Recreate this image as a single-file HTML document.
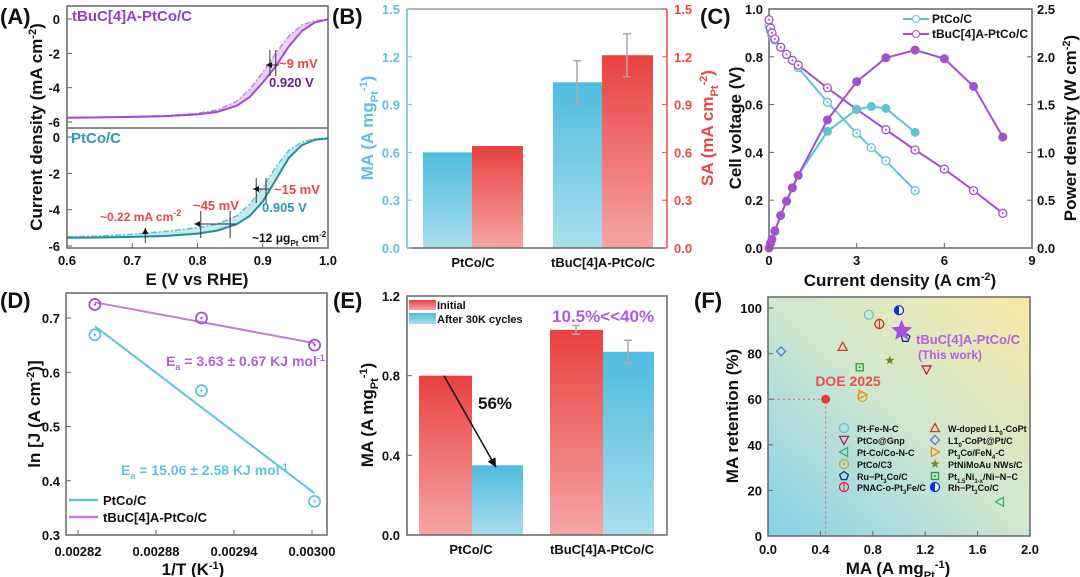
<!DOCTYPE html>
<html><head><meta charset="utf-8"><style>
body{margin:0;background:#fff}
svg{display:block;font-family:"Liberation Sans",Arial,sans-serif;font-weight:bold}
</style></head><body>
<svg id="s" width="1080" height="577" viewBox="0 0 1080 577">
<defs>
<linearGradient id="gc" x1="0" y1="0" x2="0" y2="1"><stop offset="0" stop-color="#4fbcdf"/><stop offset="1" stop-color="#a9deec"/></linearGradient>
<linearGradient id="gr" x1="0" y1="0" x2="0" y2="1"><stop offset="0" stop-color="#e94141"/><stop offset="1" stop-color="#f5a5a5"/></linearGradient>
<linearGradient id="gf" x1="0" y1="1" x2="1" y2="0"><stop offset="0" stop-color="#86d0ea"/><stop offset="0.5" stop-color="#cfe7d0"/><stop offset="1" stop-color="#f8e9a6"/></linearGradient>
<marker id="ah" markerWidth="8" markerHeight="8" refX="6" refY="3" orient="auto"><path d="M0,0 L6,3 L0,6 z" fill="#111"/></marker>
</defs>
<g font-size="22" fill="#111">
<text x="0" y="24">(A)</text>
<text x="332" y="24">(B)</text>
<text x="700" y="24">(C)</text>
<text x="0" y="308">(D)</text>
<text x="333" y="308">(E)</text>
<text x="694" y="308">(F)</text>
</g>
<rect x="768" y="297" width="262" height="239" fill="url(#gf)"/>
<g id="root"></g>
</svg>
<script>
// ---------- DATA ----------
// Panel A (LSV)
const aE = [0.6,0.65,0.7,0.75,0.8,0.83,0.86,0.88,0.9,0.92,0.94,0.96,0.98,1.0];
const aTbuSolid = [-5.75,-5.73,-5.7,-5.66,-5.56,-5.42,-5.05,-4.55,-3.7,-2.75,-1.6,-0.7,-0.2,-0.02];
const aTbuDash  = [-5.74,-5.72,-5.68,-5.63,-5.5,-5.3,-4.8,-4.1,-3.1,-2.0,-1.0,-0.35,-0.1,-0.02];
const aPtSolid  = [-5.55,-5.53,-5.5,-5.45,-5.32,-5.15,-4.8,-4.35,-3.55,-2.35,-1.15,-0.45,-0.15,-0.08];
const aPtDash   = [-5.5,-5.45,-5.35,-5.2,-5.0,-4.8,-4.35,-3.7,-2.8,-1.65,-0.75,-0.28,-0.1,-0.08];
// Panel B
const bCats = ["PtCo/C","tBuC[4]A-PtCo/C"];
const bMA = [0.60,1.04];
const bMAerr = [0,0.135];
const bSA = [0.64,1.21];
const bSAerr = [0,0.135];
const bTicks = [0,0.3,0.6,0.9,1.2,1.5];
// Panel C
const cJpt = [0,0.05,0.1,0.2,0.4,0.6,0.8,1,2,3,3.5,4,5];
const cVpt = [0.93,0.91,0.89,0.87,0.84,0.81,0.785,0.755,0.61,0.48,0.42,0.365,0.24];
const cPpt = [0,0.05,0.09,0.17,0.34,0.49,0.63,0.76,1.22,1.45,1.48,1.46,1.21];
const cJtb = [0,0.05,0.1,0.2,0.4,0.6,0.8,1,2,3,4,5,6,7,8];
const cVtb = [0.955,0.92,0.9,0.875,0.84,0.81,0.785,0.765,0.67,0.58,0.495,0.41,0.33,0.24,0.145];
const cPtb = [0,0.05,0.09,0.18,0.34,0.49,0.63,0.76,1.34,1.74,1.99,2.07,1.98,1.69,1.16];
// Panel D
const dX = [0.002833,0.002915,0.003002];
const dPt = [0.669,0.566,0.362];
const dTb = [0.725,0.700,0.650];
const dXticks = [0.00282,0.00288,0.00294,0.00300];
const dYticks = [0.3,0.4,0.5,0.6,0.7];
// Panel E
const eCats = ["PtCo/C","tBuC[4]A-PtCo/C"];
const eInit = [0.80,1.03];
const eInitErr = [0,0.022];
const eAfter = [0.35,0.92];
const eAfterErr = [0,0.058];
const eTicks = [0,0.4,0.8,1.2];
// Panel F
const fNames = ["Pt-Fe-N-C","PNAC-o-Pt3Fe/C","Rh-Pt3Co/C","Ru-Pt3Co/C","W-doped L10-CoPt","L10-CoPt@Pt/C","Pt1.5Ni/Ni-N-C","PtNiMoAu NWs/C","PtCo@Gnp","Pt3Co/FeN4-C","PtCo/C3","Pt-Co/Co-N-C","DOE 2025","tBuC[4]A-PtCo/C"];
const fMA  = [0.77,0.85,1.00,1.05,0.57,0.10,0.70,0.93,1.21,0.72,0.72,1.77,0.44,1.02];
const fRet = [97,93,99,87,83,81,74,77,73,62,61,15,60,90];

// ---------- HELPERS ----------
const NS="http://www.w3.org/2000/svg";
const root=document.getElementById('root');
function mk(tag,attrs,name,parent){
  const el=document.createElementNS(NS,tag);
  for(const k in attrs) el.setAttribute(k,attrs[k]);
  
  
  (parent||root).appendChild(el);return el;
}
function txt(x,y,s,name,o){o=o||{};const t=mk('text',Object.assign({x:x,y:y,'font-size':o.fs||13,fill:o.fill||'#111','text-anchor':o.anchor||'middle'},o.tr?{transform:o.tr}:{}),name);t.innerHTML=s;return t;}
function lin(d0,d1,r0,r1){return v=>r0+(v-d0)/(d1-d0)*(r1-r0);}
function pl(xs,ys,X,Y,st,name,extra){const p=xs.map((v,i)=>X(v).toFixed(1)+','+Y(ys[i]).toFixed(1)).join(' ');return mk('polyline',Object.assign({points:p,fill:'none',stroke:st,'stroke-width':2},extra||{}),name);}
function frame(x0,y0,x1,y1,name,col){mk('rect',{x:x0,y:y0,width:x1-x0,height:y1-y0,fill:'none',stroke:col||'#666','stroke-width':1.5},name);}

// ---------- PANEL A ----------
(function(){
  const X=lin(0.6,1.0,67,328);
  const Yt=lin(0,-6,19,122), Yb=lin(0,-6,137,246);
  mk('rect',{x:67,y:6,width:261,height:242,fill:'#fff'},'a-plot-bg');
  const fillP=(a,b,Y,col,n)=>{let p=aE.map((e,i)=>X(e)+','+Y(a[i])).join(' ')+' '+aE.slice().reverse().map((e,i)=>X(e)+','+Y(b[aE.length-1-i])).join(' ');mk('polygon',{points:p,fill:col,opacity:0.35},n);};
  fillP(aTbuSolid,aTbuDash,Yt,'#c07ee0','a-tbu-fill');
  fillP(aPtSolid,aPtDash,Yb,'#5bc0d8','a-ptco-fill');
  pl(aE,aTbuDash,X,Yt,'#c48be6','a-tbu-dashed',{'stroke-dasharray':'6,2,2,2','stroke-width':1.5});
  pl(aE,aTbuSolid,X,Yt,'#a647d6','a-tbu-solid');
  pl(aE,aPtDash,X,Yb,'#5cc4d6','a-ptco-dashed',{'stroke-dasharray':'6,2,2,2','stroke-width':1.5});
  pl(aE,aPtSolid,X,Yb,'#1f8ea2','a-ptco-solid');
  frame(67,6,328,248,'a-frame');
  mk('line',{x1:67,y1:128,x2:328,y2:128,stroke:'#666','stroke-width':1.5},'a-divider');
  [0,-2,-4,-6].forEach(v=>{txt(60,Yt(v)+5,v,'a-top-ytick',{anchor:'end'});txt(60,Yb(v)+5,v,'a-bottom-ytick',{anchor:'end'});
    mk('line',{x1:67,y1:Yt(v),x2:72,y2:Yt(v),stroke:'#666'},'a-tick');mk('line',{x1:67,y1:Yb(v),x2:72,y2:Yb(v),stroke:'#666'},'a-tick');});
  [0.6,0.7,0.8,0.9,1.0].forEach(v=>{txt(X(v),265,v.toFixed(1),'a-xtick');mk('line',{x1:X(v),y1:248,x2:X(v),y2:243,stroke:'#666'},'a-tick');});
  txt(197,285,'E (V vs RHE)','a-x-title',{fs:17});
  txt(0,0,'Current density (mA cm<tspan dy="-6" font-size="11">-2</tspan><tspan dy="6">)</tspan>','a-y-title',{fs:17,tr:'translate(42,127) rotate(-90)'});
  txt(72,21,'tBuC[4]A-PtCo/C','a-tbu-label',{fs:15,fill:'#9b3cc8',anchor:'start'});
  txt(71,143,'PtCo/C','a-ptco-label',{fs:15,fill:'#2a9bb2',anchor:'start'});
  const red='#e8474a';
  const vl=(x,y0,y1,n)=>mk('line',{x1:x,y1:y0,x2:x,y2:y1,stroke:'#333','stroke-width':1},n);
  vl(X(0.911),50,76,'a-marker');vl(X(0.92),50,76,'a-marker');
  mk('line',{x1:X(0.925),y1:65,x2:X(0.905),y2:65,stroke:'#333','marker-end':'url(#ah)'},'a-arrow-9mv');
  txt(279,68,'~9 mV','a-9mv',{fill:red,anchor:'start'});
  txt(269,87,'0.920 V','a-0920',{fill:'#6a1f8a',anchor:'start'});
  vl(X(0.89),178,203,'a-marker');vl(X(0.905),178,203,'a-marker');
  mk('line',{x1:X(0.91),y1:189,x2:X(0.885),y2:189,stroke:'#333','marker-end':'url(#ah)'},'a-arrow-15mv');
  txt(274,194,'~15 mV','a-15mv',{fill:red,anchor:'start'});
  txt(262,212,'0.905 V','a-0905',{fill:'#2a9bb2',anchor:'start'});
  vl(X(0.805),211,238,'a-marker');vl(X(0.85),211,238,'a-marker');
  mk('line',{x1:X(0.86),y1:224,x2:X(0.795),y2:224,stroke:'#333','marker-end':'url(#ah)'},'a-arrow-45mv');
  txt(193,210,'~45 mV','a-45mv',{fill:red,anchor:'start'});
  mk('line',{x1:X(0.72),y1:243,x2:X(0.72),y2:228,stroke:'#333','marker-end':'url(#ah)'},'a-arrow-022');
  txt(100,221,'~0.22 mA cm<tspan dy="-5" font-size="9">-2</tspan>','a-022',{fill:red,anchor:'start',fs:12});
  txt(252,242,'~12 μg<tspan dy="4" font-size="8">Pt</tspan><tspan dy="-4"> cm</tspan><tspan dy="-5" font-size="8">-2</tspan>','a-loading',{anchor:'start',fs:12});
})();

// ---------- PANEL B ----------
(function(){
  const Y=lin(0,1.5,248,9);
  const cyan='#5bc2e2',red='#e84848';
  const cx=[423,553];
  bCats.forEach((c,i)=>{
    mk('rect',{x:cx[i],y:Y(bMA[i]),width:49,height:248-Y(bMA[i]),fill:'url(#gc)'},'b-bar-ma-'+i);
    mk('rect',{x:cx[i]+49,y:Y(bSA[i]),width:51,height:248-Y(bSA[i]),fill:'url(#gr)'},'b-bar-sa-'+i);
    if(bMAerr[i]){const x=cx[i]+24;mk('path',{d:`M${x-4},${Y(bMA[i]+bMAerr[i])}h8M${x},${Y(bMA[i]+bMAerr[i])}V${Y(bMA[i]-bMAerr[i])}M${x-4},${Y(bMA[i]-bMAerr[i])}h8`,stroke:'#aaa','stroke-width':1.5,fill:'none'},'b-err-ma');}
    if(bSAerr[i]){const x=cx[i]+74;mk('path',{d:`M${x-4},${Y(bSA[i]+bSAerr[i])}h8M${x},${Y(bSA[i]+bSAerr[i])}V${Y(bSA[i]-bSAerr[i])}M${x-4},${Y(bSA[i]-bSAerr[i])}h8`,stroke:'#aaa','stroke-width':1.5,fill:'none'},'b-err-sa');}
    txt(cx[i]+50,267,c,'b-category',{fs:13});
  });
  mk('line',{x1:407,y1:9,x2:667,y2:9,stroke:'#999','stroke-width':1.5},'b-top');
  mk('line',{x1:407,y1:248,x2:667,y2:248,stroke:'#666','stroke-width':1.5},'b-bottom');
  mk('line',{x1:407,y1:9,x2:407,y2:248,stroke:cyan,'stroke-width':1.5},'b-left-axis');
  mk('line',{x1:667,y1:9,x2:667,y2:248,stroke:red,'stroke-width':1.5},'b-right-axis');
  bTicks.forEach(v=>{txt(400,Y(v)+5,v.toFixed(1),'b-ytick-left',{anchor:'end',fill:cyan});txt(674,Y(v)+5,v.toFixed(1),'b-ytick-right',{anchor:'start',fill:red});
    mk('line',{x1:407,y1:Y(v),x2:412,y2:Y(v),stroke:cyan},'b-tick');mk('line',{x1:667,y1:Y(v),x2:662,y2:Y(v),stroke:red},'b-tick');});
  txt(0,0,'MA (A mg<tspan dy="5" font-size="11">Pt</tspan><tspan dy="-11" font-size="11">-1</tspan><tspan dy="6">)</tspan>','b-y-title-left',{fs:17,fill:cyan,tr:'translate(373,128) rotate(-90)'});
  txt(0,0,'SA (mA cm<tspan dy="5" font-size="11">Pt</tspan><tspan dy="-11" font-size="11">-2</tspan><tspan dy="6">)</tspan>','b-y-title-right',{fs:17,fill:red,tr:'translate(713,128) rotate(-90)'});
})();

// ---------- PANEL C ----------
(function(){
  const X=lin(0,9,769,1032),Y=lin(0,1,248,9),Y2=lin(0,2.5,248,9);
  const cy='#5cc5d5',pu='#a64fd0';
  frame(769,9,1032,248,'c-frame');
  pl(cJpt,cVpt,X,Y,cy,'c-ptco-voltage-line');pl(cJtb,cVtb,X,Y,pu,'c-tbu-voltage-line');
  pl(cJpt,cPpt,X,Y2,cy,'c-ptco-power-line');pl(cJtb,cPtb,X,Y2,pu,'c-tbu-power-line');
  const open=(xs,ys,Yf,col,n)=>xs.forEach((v,i)=>{mk('circle',{cx:X(v),cy:Yf(ys[i]),r:4,fill:'#fff',stroke:col,'stroke-width':1.3},n);mk('circle',{cx:X(v),cy:Yf(ys[i]),r:1,fill:col},n+'-dot');});
  const full=(xs,ys,Yf,col,n)=>xs.forEach((v,i)=>{mk('circle',{cx:X(v),cy:Yf(ys[i]),r:4,fill:col,stroke:col},n);});
  open(cJpt,cVpt,Y,cy,'c-ptco-voltage-pt');open(cJtb,cVtb,Y,pu,'c-tbu-voltage-pt');
  full(cJpt,cPpt,Y2,cy,'c-ptco-power-pt');full(cJtb,cPtb,Y2,pu,'c-tbu-power-pt');
  [0,3,6,9].forEach(v=>{txt(X(v),265,v,'c-xtick');mk('line',{x1:X(v),y1:248,x2:X(v),y2:243,stroke:'#666'},'c-tick');});
  [0,0.2,0.4,0.6,0.8,1.0].forEach(v=>{txt(763,Y(v)+5,v.toFixed(1),'c-ytick-left',{anchor:'end'});mk('line',{x1:769,y1:Y(v),x2:774,y2:Y(v),stroke:'#666'},'c-tick');});
  [0,0.5,1.0,1.5,2.0,2.5].forEach(v=>{txt(1037,Y2(v)+5,v.toFixed(1),'c-ytick-right',{anchor:'start'});mk('line',{x1:1032,y1:Y2(v),x2:1027,y2:Y2(v),stroke:'#666'},'c-tick');});
  txt(900,286,'Current density (A cm<tspan dy="-6" font-size="11">-2</tspan><tspan dy="6">)</tspan>','c-x-title',{fs:17});
  txt(0,0,'Cell voltage (V)','c-y-title-left',{fs:17,tr:'translate(741,128) rotate(-90)'});
  txt(0,0,'Power density (W cm<tspan dy="-6" font-size="11">-2</tspan><tspan dy="6">)</tspan>','c-y-title-right',{fs:17,tr:'translate(1076,128) rotate(-90)'});
  mk('line',{x1:903,y1:19,x2:929,y2:19,stroke:cy,'stroke-width':2},'c-legend-ptco-line');mk('circle',{cx:916,cy:19,r:3.5,fill:'#fff',stroke:cy},'c-legend-ptco-marker');
  txt(932,23,'PtCo/C','c-legend-ptco',{anchor:'start',fs:12});
  mk('line',{x1:903,y1:34,x2:929,y2:34,stroke:pu,'stroke-width':2},'c-legend-tbu-line');mk('circle',{cx:916,cy:34,r:3.5,fill:'#fff',stroke:pu},'c-legend-tbu-marker');
  txt(932,38,'tBuC[4]A-PtCo/C','c-legend-tbu',{anchor:'start',fs:12});
})();

// ---------- PANEL D ----------
(function(){
  const X=lin(0.00282,0.003,78,312),Y=lin(0.3,0.7,535,318);
  const cy='#5cc5dc',pu='#c07fe0';
  frame(66,293,327,535,'d-frame');
  const fit=ys=>{const n=dX.length,mx=dX.reduce((a,b)=>a+b)/n,my=ys.reduce((a,b)=>a+b)/n;let sxy=0,sxx=0;dX.forEach((x,i)=>{sxy+=(x-mx)*(ys[i]-my);sxx+=(x-mx)*(x-mx);});const m=sxy/sxx;return x=>my+m*(x-mx);};
  const fp=fit(dPt),ft=fit(dTb);
  const x0=dX[0],x1=dX[dX.length-1];
  mk('line',{x1:X(x0),y1:Y(fp(x0)),x2:X(x1),y2:Y(fp(x1)),stroke:cy,'stroke-width':2},'d-ptco-fit');
  mk('line',{x1:X(x0),y1:Y(ft(x0)),x2:X(x1),y2:Y(ft(x1)),stroke:pu,'stroke-width':2},'d-tbu-fit');
  dX.forEach((x,i)=>{
    mk('circle',{cx:X(x),cy:Y(dPt[i]),r:5.5,fill:'none',stroke:cy,'stroke-width':1.8},'d-ptco-point');mk('circle',{cx:X(x),cy:Y(dPt[i]),r:1.2,fill:cy},'d-ptco-dot');
    mk('circle',{cx:X(x),cy:Y(dTb[i]),r:5.5,fill:'none',stroke:'#a64fd0','stroke-width':1.8},'d-tbu-point');mk('circle',{cx:X(x),cy:Y(dTb[i]),r:1.2,fill:'#a64fd0'},'d-tbu-dot');
  });
  dXticks.forEach(v=>{txt(X(v),556,v.toFixed(5),'d-xtick');mk('line',{x1:X(v),y1:535,x2:X(v),y2:530,stroke:'#666'},'d-tick');});
  dYticks.forEach(v=>{txt(60,Y(v)+5,v.toFixed(1),'d-ytick',{anchor:'end'});mk('line',{x1:66,y1:Y(v),x2:71,y2:Y(v),stroke:'#666'},'d-tick');});
  txt(193,575,'1/T (K<tspan dy="-6" font-size="11">-1</tspan><tspan dy="6">)</tspan>','d-x-title',{fs:17});
  txt(0,0,'ln [J (A cm<tspan dy="-6" font-size="11">-2</tspan><tspan dy="6">)]</tspan>','d-y-title',{fs:17,tr:'translate(40,414) rotate(-90)'});
  txt(166,366,'E<tspan dy="4" font-size="9">a</tspan><tspan dy="-4"> = 3.63 ± 0.67 KJ mol</tspan><tspan dy="-5" font-size="9">-1</tspan>','d-ea-tbu',{fill:'#b060d8',anchor:'start',fs:14});
  txt(121,475,'E<tspan dy="4" font-size="9">a</tspan><tspan dy="-4"> = 15.06 ± 2.58 KJ mol</tspan><tspan dy="-5" font-size="9">-1</tspan>','d-ea-ptco',{fill:'#5cc5dc',anchor:'start',fs:14});
  mk('line',{x1:69,y1:500,x2:98,y2:500,stroke:cy,'stroke-width':2.5},'d-legend-ptco-line');txt(103,505,'PtCo/C','d-legend-ptco',{anchor:'start',fs:13});
  mk('line',{x1:69,y1:517,x2:98,y2:517,stroke:pu,'stroke-width':2.5},'d-legend-tbu-line');txt(103,522,'tBuC[4]A-PtCo/C','d-legend-tbu',{anchor:'start',fs:13});
})();

// ---------- PANEL E ----------
(function(){
  const Y=lin(0,1.2,535,296);
  const cx=[419,550];
  eCats.forEach((c,i)=>{
    mk('rect',{x:cx[i],y:Y(eInit[i]),width:53,height:535-Y(eInit[i]),fill:'url(#gr)'},'e-bar-initial-'+i);
    mk('rect',{x:cx[i]+53,y:Y(eAfter[i]),width:51,height:535-Y(eAfter[i]),fill:'url(#gc)'},'e-bar-after-'+i);
    const eb=(x,v,e,n)=>{if(!e)return;mk('path',{d:`M${x-4},${Y(v+e)}h8M${x},${Y(v+e)}V${Y(v-e)}M${x-4},${Y(v-e)}h8`,stroke:'#aaa','stroke-width':1.5,fill:'none'},n);};
    eb(cx[i]+26,eInit[i],eInitErr[i],'e-err-initial');eb(cx[i]+78,eAfter[i],eAfterErr[i],'e-err-after');
    txt(cx[i]+52,554,c,'e-category',{fs:13});
  });
  frame(407,296,667,535,'e-frame');
  eTicks.forEach(v=>{txt(400,Y(v)+5,v.toFixed(1),'e-ytick',{anchor:'end'});mk('line',{x1:407,y1:Y(v),x2:412,y2:Y(v),stroke:'#666'},'e-tick');});
  txt(0,0,'MA (A mg<tspan dy="5" font-size="11">Pt</tspan><tspan dy="-11" font-size="11">-1</tspan><tspan dy="6">)</tspan>','e-y-title',{fs:17,tr:'translate(373,415) rotate(-90)'});
  mk('line',{x1:444,y1:Y(eInit[0]),x2:496,y2:Y(eAfter[0])+2,stroke:'#111','stroke-width':1.5,'marker-end':'url(#ah)'},'e-drop-arrow');
  txt(495,409,'56%','e-drop-label',{fs:17});
  mk('rect',{x:409,y:300,width:27,height:10,fill:'url(#gr)'},'e-legend-initial-swatch');txt(437,309,'Initial','e-legend-initial',{anchor:'start',fs:11});
  mk('rect',{x:409,y:313,width:27,height:11,fill:'url(#gc)'},'e-legend-after-swatch');txt(437,323,'After 30K cycles','e-legend-after',{anchor:'start',fs:11});
  txt(552,322,'10.5%&lt;&lt;40%','e-retention-label',{fill:'#b05ae0',anchor:'start',fs:17});
})();

// ---------- PANEL F ----------
(function(){
  const X=lin(0,2,768,1030),Y=lin(0,100,536,308);
  frame(768,297,1030,536,'f-frame');
  const dx=X(fMA[12]),dy=Y(fRet[12]);
  mk('path',{d:`M768,${dy}H${dx}V536`,stroke:'#e06060','stroke-width':1,'stroke-dasharray':'2,3',fill:'none'},'f-doe-guide');
  const sym=(k,x,y,n)=>{
    const s=4.5;
    switch(k){
      case 0:mk('circle',{cx:x,cy:y,r:s,fill:'none',stroke:'#5cc5dc','stroke-width':1.3},n);break;
      case 1:mk('circle',{cx:x,cy:y,r:s,fill:'none',stroke:'#e02020','stroke-width':1.3},n);mk('line',{x1:x,y1:y-s,x2:x,y2:y+s,stroke:'#e02020'},n+'-bar');break;
      case 2:mk('circle',{cx:x,cy:y,r:s,fill:'#fff',stroke:'#1030e0','stroke-width':1.3},n);mk('path',{d:`M${x},${y-s}A${s},${s} 0 0 0 ${x},${y+s}z`,fill:'#1030e0'},n+'-half');break;
      case 3:{let p=[];for(let j=0;j<5;j++){const a=-Math.PI/2+j*2*Math.PI/5;p.push((x+s*Math.cos(a)).toFixed(1)+','+(y+s*Math.sin(a)).toFixed(1));}mk('polygon',{points:p.join(' '),fill:'none',stroke:'#1a2a8a','stroke-width':1.3},n);break;}
      case 4:mk('polygon',{points:`${x},${y-s} ${x+s},${y+s*0.8} ${x-s},${y+s*0.8}`,fill:'none',stroke:'#e03030','stroke-width':1.3},n);break;
      case 5:mk('polygon',{points:`${x},${y-s} ${x+s},${y} ${x},${y+s} ${x-s},${y}`,fill:'none',stroke:'#4a78c8','stroke-width':1.2},n);break;
      case 6:mk('rect',{x:x-s+1,y:y-s+1,width:2*s-2,height:2*s-2,fill:'none',stroke:'#2a9a3a','stroke-width':1.3},n);mk('circle',{cx:x,cy:y,r:1,fill:'#2a9a3a'},n+'-dot');break;
      case 7:{let p=[];for(let j=0;j<10;j++){const a=-Math.PI/2+j*Math.PI/5,r=j%2?s*0.45:s*1.1;p.push((x+r*Math.cos(a)).toFixed(1)+','+(y+r*Math.sin(a)).toFixed(1));}mk('polygon',{points:p.join(' '),fill:'#7a8a20'},n);break;}
      case 8:mk('polygon',{points:`${x-s},${y-s*0.8} ${x+s},${y-s*0.8} ${x},${y+s}`,fill:'none',stroke:'#b02050','stroke-width':1.3},n);break;
      case 9:mk('polygon',{points:`${x-s*0.8},${y-s} ${x+s},${y} ${x-s*0.8},${y+s}`,fill:'none',stroke:'#f08a20','stroke-width':1.3},n);break;
      case 10:mk('circle',{cx:x,cy:y,r:s,fill:'none',stroke:'#c8a820','stroke-width':1.3},n);mk('circle',{cx:x,cy:y,r:1.2,fill:'#c8a820'},n+'-dot');break;
      case 11:mk('polygon',{points:`${x+s*0.8},${y-s} ${x-s},${y} ${x+s*0.8},${y+s}`,fill:'none',stroke:'#30b080','stroke-width':1.3},n);break;
      case 12:mk('circle',{cx:x,cy:y,r:s,fill:'#e83838'},n);break;
      case 13:{let p=[];for(let j=0;j<10;j++){const a=-Math.PI/2+j*Math.PI/5,r=j%2?5:11;p.push((x+r*Math.cos(a)).toFixed(1)+','+(y+r*Math.sin(a)).toFixed(1));}mk('polygon',{points:p.join(' '),fill:'#a64fe0'},n);break;}
    }
  };
  fMA.forEach((v,i)=>sym(i,X(v),Y(fRet[i]),'f-point-'+i));
  txt(848,386,'DOE 2025','f-doe-label',{fill:'#e85050',fs:14});
  txt(916,344,'tBuC[4]A-PtCo/C','f-this-work-label',{fill:'#b060e0',anchor:'start',fs:13});
  txt(950,359,'(This work)','f-this-work-sub',{fill:'#b060e0',fs:12});
  const leg=[[0,0,'Pt-Fe-N-C'],[4,1,'W-doped L1<tspan dy="3" font-size="6">0</tspan><tspan dy="-3">-CoPt</tspan>'],[8,0,'PtCo@Gnp'],[5,1,'L1<tspan dy="3" font-size="6">0</tspan><tspan dy="-3">-CoPt@Pt/C</tspan>'],[11,0,'Pt-Co/Co-N-C'],[9,1,'Pt<tspan dy="3" font-size="6">3</tspan><tspan dy="-3">Co/FeN</tspan><tspan dy="3" font-size="6">4</tspan><tspan dy="-3">-C</tspan>'],[10,0,'PtCo/C3'],[7,1,'PtNiMoAu NWs/C'],[3,0,'Ru−Pt<tspan dy="3" font-size="6">3</tspan><tspan dy="-3">Co/C</tspan>'],[6,1,'Pt<tspan dy="3" font-size="6">1.5</tspan><tspan dy="-3">Ni</tspan><tspan dy="3" font-size="6">1-x</tspan><tspan dy="-3">/Ni−N−C</tspan>'],[1,0,'PNAC-o-Pt<tspan dy="3" font-size="6">3</tspan><tspan dy="-3">Fe/C</tspan>'],[2,1,'Rh−Pt<tspan dy="3" font-size="6">3</tspan><tspan dy="-3">Co/C</tspan>']];
  const rows=[428,440,452,464,476,487];
  leg.forEach((l,i)=>{const r=Math.floor(i/2),c=l[1];const mx=c?935:844;sym(l[0],mx,rows[r],'f-legend-marker');txt(c?948:857,rows[r]+4,l[2],'f-legend-entry',{anchor:'start',fs:9});});
  [0,0.4,0.8,1.2,1.6,2.0].forEach(v=>{txt(X(v),554,v.toFixed(1),'f-xtick');mk('line',{x1:X(v),y1:536,x2:X(v),y2:531,stroke:'#666'},'f-tick');});
  [0,20,40,60,80,100].forEach(v=>{txt(762,Y(v)+5,v,'f-ytick',{anchor:'end'});mk('line',{x1:768,y1:Y(v),x2:773,y2:Y(v),stroke:'#666'},'f-tick');});
  txt(898,574,'MA (A mg<tspan dy="5" font-size="11">Pt</tspan><tspan dy="-11" font-size="11">-1</tspan><tspan dy="6">)</tspan>','f-x-title',{fs:17});
  txt(0,0,'MA retention (%)','f-y-title',{fs:17,tr:'translate(738,416) rotate(-90)'});
})();
</script>
</body></html>
